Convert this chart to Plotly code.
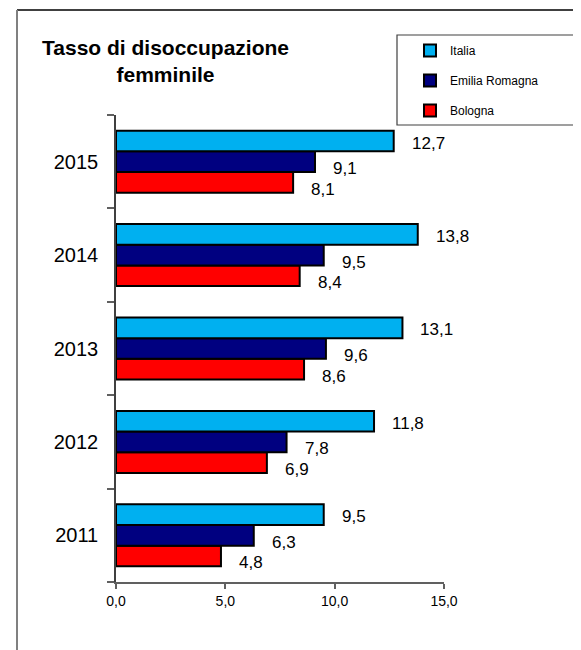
import plotly.graph_objects as go

# ---- data ----
years = ["2011", "2012", "2013", "2014", "2015"]
italia = [9.5, 11.8, 13.1, 13.8, 12.7]
emilia = [6.3, 7.8, 9.6, 9.5, 9.1]
bologna = [4.8, 6.9, 8.6, 8.4, 8.1]
series_names = ["Italia", "Emilia Romagna", "Bologna"]
series_values = [italia, emilia, bologna]
colors = ["#00B0F0", "#000080", "#FF0000"]
x_ticks = [0, 5, 10, 15]
title_text = "<b>Tasso di disoccupazione<br>femminile</b>"

FONT = "Arial, 'Liberation Sans', sans-serif"
OFF = 8  # page body margin
W, H = 581 - OFF, 650 - OFF
# target plot area in page pixels: x 116..444, y 115..582
L, T = 116 - OFF, 115 - OFF
R, B = W - (444 - OFF), H - (582 - OFF)
PW, PH = W - L - R, H - T - B
BARGAP = 0.336


def px_x(p):
    return (p - OFF - L) / PW


def px_y(p):
    return (H - B - (p - OFF)) / PH


def fmt(v):
    return f"{v:.1f}".replace(".", ",")


fig = go.Figure()
# plotly places horizontal grouped bars bottom-up, so add Bologna first
for idx in [2, 1, 0]:
    fig.add_trace(go.Bar(
        y=years, x=series_values[idx], orientation="h",
        name=series_names[idx], legendgroup=series_names[idx],
        legendrank=idx + 1,
        marker=dict(color=colors[idx], line=dict(color="black", width=2)),
    ))

# data labels (category axis -> numeric index positions)
bar_w = (1 - BARGAP) / 3
bar_px = PH / len(years) * bar_w
drop = [2, 7, 7]
annotations = []
for s, vals in enumerate(series_values):
    for i, v in enumerate(vals):
        annotations.append(dict(
            x=v, y=i, xref="x", yref="y", text=fmt(v), showarrow=False,
            xanchor="left", yanchor="middle", xshift=16,
            yshift=(1 - s) * bar_px - drop[s],
            font=dict(family=FONT, size=17, color="black"),
        ))

annotations.append(dict(
    x=px_x(165), y=px_y(61), xref="paper", yref="paper", text=title_text,
    showarrow=False, xanchor="center", yanchor="middle", align="center",
    font=dict(family=FONT, size=21, color="black"),
))

shapes = [
    # outer frame
    dict(type="line", xref="paper", yref="paper", x0=px_x(17), x1=px_x(600),
         y0=px_y(10), y1=px_y(10), line=dict(color="black", width=1.5)),
    dict(type="line", xref="paper", yref="paper", x0=px_x(17), x1=px_x(17),
         y0=px_y(10), y1=px_y(660), line=dict(color="#808080", width=2)),
    # legend box
    dict(type="rect", xref="paper", yref="paper", x0=px_x(397), x1=px_x(600),
         y0=px_y(125), y1=px_y(35), line=dict(color="#404040", width=1.2)),
]

fig.update_layout(
    width=W, height=H,
    margin=dict(l=L, r=R, t=T, b=B, pad=0),
    paper_bgcolor="white", plot_bgcolor="white",
    barmode="group", bargap=BARGAP, bargroupgap=0,
    separators=",.",
    font=dict(family=FONT, color="black"),
    showlegend=True,
    legend=dict(
        x=px_x(410), y=px_y(36), xanchor="left", yanchor="top",
        traceorder="grouped", tracegroupgap=11,
        bgcolor="rgba(0,0,0,0)", borderwidth=0,
        font=dict(family=FONT, size=12, color="black"),
        itemwidth=30,
    ),
    annotations=annotations,
    shapes=shapes,
    xaxis=dict(
        range=[0, 15], tickvals=x_ticks, tickformat=".1f",
        showgrid=False, zeroline=False,
        showline=True, linecolor="#606060", linewidth=1.5,
        ticks="outside", ticklen=5, tickcolor="#606060", tickwidth=1.5,
        tickfont=dict(family=FONT, size=14, color="black"),
    ),
    yaxis=dict(
        type="category", categoryorder="array", categoryarray=years,
        range=[-0.5, len(years) - 0.5],
        showgrid=False, zeroline=False,
        showline=True, linecolor="#404040", linewidth=1.5,
        ticks="outside", ticklen=7, tickcolor="#606060", tickwidth=1.5,
        tickson="boundaries", ticklabelstandoff=12,
        tickfont=dict(family=FONT, size=20, color="black"),
    ),
)

fig.write_html("out.html")
